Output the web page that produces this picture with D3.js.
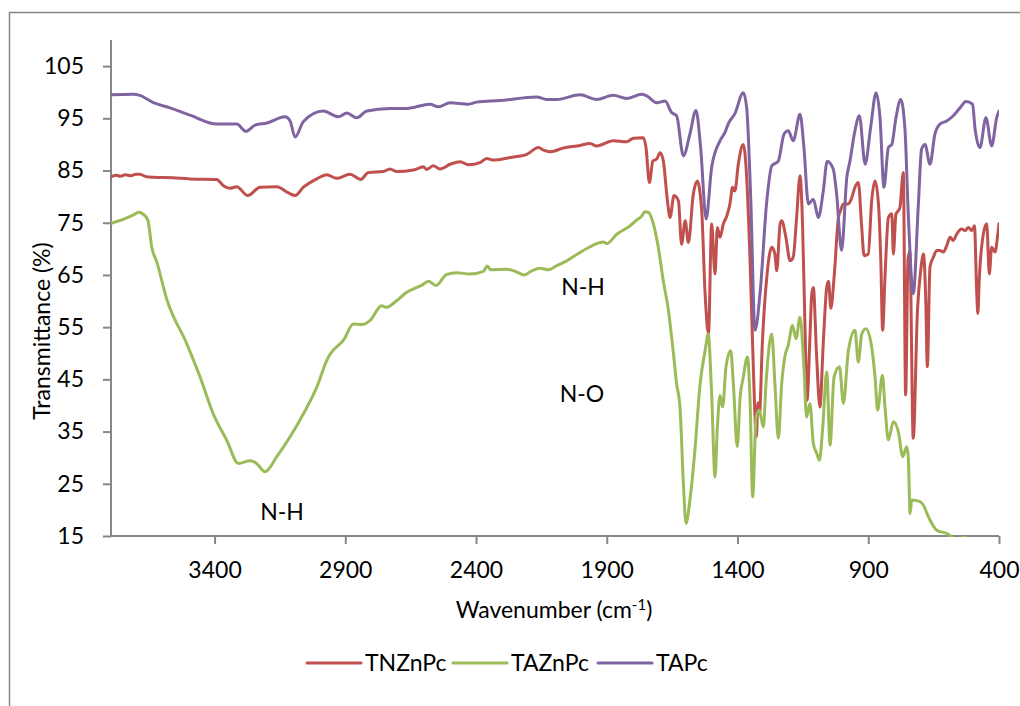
<!DOCTYPE html>
<html><head><meta charset="utf-8">
<script src="https://cdn.jsdelivr.net/npm/d3@7/dist/d3.min.js"></script>
<style>
body{margin:0;background:#fff}
text{font-family:Lato,"Open Sans",sans-serif;fill:#000}
</style>
</head><body>
<svg id="chart" width="1020" height="706"></svg>
<script>
// ---- data ----
const seriesNames=["TNZnPc","TAZnPc","TAPc"];
const seriesColors=["#C0504D","#9BBB59","#8064A2"];
const xTickValues=[3400,2900,2400,1900,1400,900,400];
const yTickValues=[15,25,35,45,55,65,75,85,95,105];
const xDomain=[3796,400];
const yDomain=[15,110];

const tnznpcWave=[3796,3775,3760,3740,3720,3700,3686,3660,3634,3560,3494,3392,3366,3341,3315,3273,3226,3162,3117,3092,3060,3009,2971,2933,2882,2841,2812,2754,2729,2703,2640,2601,2589,2563,2538,2499,2461,2429,2385,2359,2333,2270,2206,2161,2142,2117,2066,2002,1964,1939,1875,1824,1798,1760,1750,1737,1724,1709,1696,1684,1668,1658,1643,1626,1614,1600,1588,1569,1554,1537,1524,1511,1499,1486,1477,1467,1454,1441,1429,1419,1410,1397,1378,1365,1352,1340,1328,1322,1316,1305,1288,1269,1257,1250,1237,1231,1215,1199,1187,1174,1161,1151,1142,1134,1123,1116,1110,1098,1085,1072,1059,1052,1043,1030,1014,1006,995,976,963,951,938,925,916,900,887,874,861,852,845,836,823,810,804,794,785,779,766,757,748,741,728,712,699,689,680,674,664,651,638,626,613,600,587,575,562,543,530,517,504,494,485,481,475,460,447,437,428,415,406,400];
const tnznpcT=[83.8,84.1,83.9,84.2,84.0,84.3,84.3,83.8,83.7,83.6,83.4,83.3,82.1,81.6,81.9,80.2,81.8,81.9,80.7,80.2,81.8,83.4,84.2,83.5,84.3,83.3,84.6,84.8,85.3,84.8,85.1,85.7,85.2,85.9,85.3,86.2,86.7,86.1,86.5,87.3,87.0,87.5,88.1,89.4,88.9,88.6,89.3,89.8,90.2,89.7,90.7,90.5,91.2,91.3,89.4,82.7,86.8,87.2,88.4,86.9,79.2,76.0,80.2,79.2,70.9,75.4,71.2,80.5,83.0,77.3,61.4,53.7,74.8,65.2,74.1,72.2,74.8,76.3,78.6,81.8,81.1,86.2,90.0,83.7,67.7,48.0,34.0,40.5,38.5,52.0,64.6,70.3,69.0,65.8,74.8,75.4,72.2,67.7,68.4,76.0,84.0,74.1,55.0,41.0,53.1,61.4,62.6,50.0,39.7,52.0,62.6,63.8,58.6,65.0,76.0,77.3,78.6,78.6,79.8,81.8,82.7,74.1,68.7,69.0,79.2,83.0,78.6,67.7,54.4,64.6,76.0,76.7,69.0,76.7,77.3,77.9,84.6,42.0,68.0,69.5,33.7,58.0,66.0,69.0,60.0,47.4,66.5,68.4,69.7,69.7,69.4,70.6,72.2,71.6,72.8,73.8,73.5,74.1,73.5,74.4,61.4,57.6,64.6,72.8,74.8,65.2,70.3,69.4,72.2,74.8];

const taznpcWave=[3796,3747,3710,3690,3672,3655,3640,3621,3583,3506,3455,3405,3353,3309,3264,3239,3207,3162,3111,3060,3009,2971,2958,2907,2869,2837,2805,2761,2742,2703,2665,2627,2608,2582,2553,2512,2474,2423,2372,2357,2344,2283,2251,2215,2187,2155,2123,2091,2053,2015,1964,1913,1900,1862,1811,1786,1766,1754,1741,1722,1703,1684,1665,1645,1633,1620,1607,1597,1582,1563,1543,1524,1512,1499,1486,1477,1467,1457,1444,1426,1416,1401,1390,1378,1362,1352,1342,1329,1317,1301,1291,1282,1269,1257,1244,1231,1218,1206,1190,1176,1161,1146,1136,1123,1110,1097,1087,1074,1059,1046,1031,1010,995,976,951,938,925,909,887,874,864,846,836,823,804,785,768,753,747,740,734,702,689,670,638,600,568,530];
const taznpcT=[74.9,75.7,76.5,77.0,76.6,75.5,70.3,67.5,60.4,51.8,45.4,38.4,33.3,28.9,29.4,28.9,27.3,30.2,34.0,38.4,43.5,48.6,49.8,52.5,55.6,55.5,56.3,59.1,58.8,60.1,61.7,62.6,63.0,63.8,63.0,65.1,65.4,65.2,65.7,66.7,66.0,66.1,65.7,65.0,65.8,66.3,66.0,66.8,67.7,68.9,70.4,71.3,71.0,72.8,74.4,75.5,76.3,77.1,77.0,74.8,70.3,63.9,58.5,49.9,44.2,39.7,25.1,17.4,21.9,31.4,44.2,50.5,53.7,42.3,26.3,35.9,41.9,39.7,47.4,50.5,44.2,32.1,41.6,45.4,49.3,41.0,22.5,37.8,39.1,35.9,44.2,49.9,53.7,44.2,33.7,44.2,49.6,51.5,55.3,52.8,56.9,47.4,37.8,40.4,32.7,30.8,29.5,35.9,46.4,32.4,45.4,47.4,40.4,50.5,54.4,48.3,53.7,54.7,51.2,45.4,39.1,45.8,39.7,33.4,36.9,35.0,30.2,32.1,30.2,19.3,21.9,21.6,20.9,18.7,16.1,15.5,14.5,14.7];

const tapcWave=[3796,3710,3686,3634,3570,3494,3392,3315,3280,3245,3200,3130,3111,3092,3060,2984,2927,2894,2856,2818,2729,2665,2576,2544,2499,2429,2397,2308,2168,2130,2091,2002,1939,1875,1824,1766,1747,1709,1677,1652,1633,1607,1582,1559,1541,1520,1499,1467,1448,1435,1410,1378,1365,1350,1333,1314,1288,1269,1244,1222,1206,1187,1161,1146,1129,1110,1091,1072,1057,1034,1021,1002,982,970,951,934,912,891,870,855,840,823,810,794,776,760,747,728,709,696,683,664,645,626,600,575,549,526,501,492,473,450,428,409,400];
const tapcT=[99.5,99.6,99.4,98.0,97.0,95.6,93.9,93.9,92.5,93.7,94.1,95.3,94.5,91.4,94.4,96.4,95.3,96.0,95.1,96.4,96.9,96.9,97.7,97.2,98.0,97.7,98.1,98.4,99.1,98.6,98.6,99.5,98.6,99.4,98.8,99.6,99.3,98.0,98.3,96.1,95.5,87.8,92.0,96.5,89.4,75.7,85.6,90.7,92.3,94.0,95.9,99.9,97.0,80.5,54.4,61.4,79.2,85.9,86.8,92.0,92.6,90.7,95.8,89.4,78.6,79.5,76.0,81.1,86.8,85.3,80.5,69.7,83.7,86.8,92.6,95.5,86.2,93.2,99.9,95.1,81.8,89.4,90.0,95.1,98.6,93.2,76.7,61.4,77.9,89.1,90.0,86.2,92.0,93.9,94.5,95.5,97.0,98.2,97.7,93.2,89.4,95.1,89.7,95.1,96.4];

const annotTexts=["N-H","N-H","N-O"];

// ---- drawing ----
const svg=d3.select("#chart");
const plot={left:111,right:999,top:40,bottom:536};
const x=d3.scaleLinear().domain(xDomain).range([plot.left,plot.right]);
const y=d3.scaleLinear().domain(yDomain).range([plot.bottom,plot.top]);
const axisColor="#868686";
const FS=23;

// outer frame
svg.append("rect").attr("x",9.5).attr("y",12.5).attr("width",1030).attr("height",720)
  .attr("fill","none").attr("stroke",axisColor).attr("stroke-width",1.5);

svg.append("clipPath").attr("id","clip").append("rect")
  .attr("x",plot.left).attr("y",plot.top).attr("width",plot.right-plot.left).attr("height",plot.bottom-plot.top+1);

// axes
const yAxis=svg.append("g").attr("transform",`translate(${plot.left},0)`)
  .call(d3.axisLeft(y).tickValues(yTickValues).tickSize(8).tickPadding(19).tickSizeOuter(0));
const xAxis=svg.append("g").attr("transform",`translate(0,${plot.bottom})`)
  .call(d3.axisBottom(x).tickValues(xTickValues).tickSize(8).tickPadding(18).tickSizeOuter(0).tickFormat(d3.format("d")));
[yAxis,xAxis].forEach(g=>{
  g.select(".domain").attr("stroke",axisColor).attr("stroke-width",2);
  g.selectAll(".tick line").attr("stroke",axisColor).attr("stroke-width",2);
  g.selectAll(".tick text").style("font-size",FS+"px").attr("fill","#000");
});
// vertical axis line should start at top of plot
yAxis.select(".domain").attr("d",`M0,${plot.top}V${plot.bottom}`);
xAxis.select(".domain").attr("d",`M${plot.left},0H${plot.right}`);
// add left end tick on x axis like Excel
xAxis.append("line").attr("x1",plot.left).attr("x2",plot.left).attr("y1",0).attr("y2",0);

// series
const seriesWaves=[tnznpcWave,taznpcWave,tapcWave];
const seriesVals=[tnznpcT,taznpcT,tapcT];
const line=d3.line().x(d=>x(d[0])).y(d=>y(d[1])).curve(d3.curveMonotoneX);
const lg=svg.append("g").attr("clip-path","url(#clip)");
seriesNames.forEach((n,i)=>{
  const pts=seriesWaves[i].map((w,j)=>[w,seriesVals[i][j]]);
  lg.append("path").datum(pts).attr("d",line).attr("fill","none")
    .attr("stroke",seriesColors[i]).attr("stroke-width",3).attr("stroke-linejoin","round").attr("stroke-linecap","round");
});

// axis titles
svg.append("text").attr("transform","translate(50,331) rotate(-90)").attr("text-anchor","middle")
  .style("font-size",FS+"px").text("Transmittance (%)");
const xt=svg.append("text").attr("x",554).attr("y",618).attr("text-anchor","middle").style("font-size",FS+"px");
xt.append("tspan").text("Wavenumber (cm");
xt.append("tspan").attr("dy",-8).style("font-size","15px").text("-1");
xt.append("tspan").attr("dy",8).text(")");

// annotations
const annotPos=[[282,520],[583,295],[582,402]];
annotTexts.forEach((t,i)=>{
  svg.append("text").attr("x",annotPos[i][0]).attr("y",annotPos[i][1]).attr("text-anchor","middle")
    .style("font-size",FS+"px").text(t);
});

// legend
const legX=[307,453,598];
seriesNames.forEach((n,i)=>{
  svg.append("line").attr("x1",legX[i]).attr("x2",legX[i]+54).attr("y1",663).attr("y2",663)
    .attr("stroke",seriesColors[i]).attr("stroke-width",3).attr("stroke-linecap","round");
  svg.append("text").attr("x",legX[i]+58).attr("y",671).style("font-size",FS+"px").text(n);
});
</script>
</body></html>
